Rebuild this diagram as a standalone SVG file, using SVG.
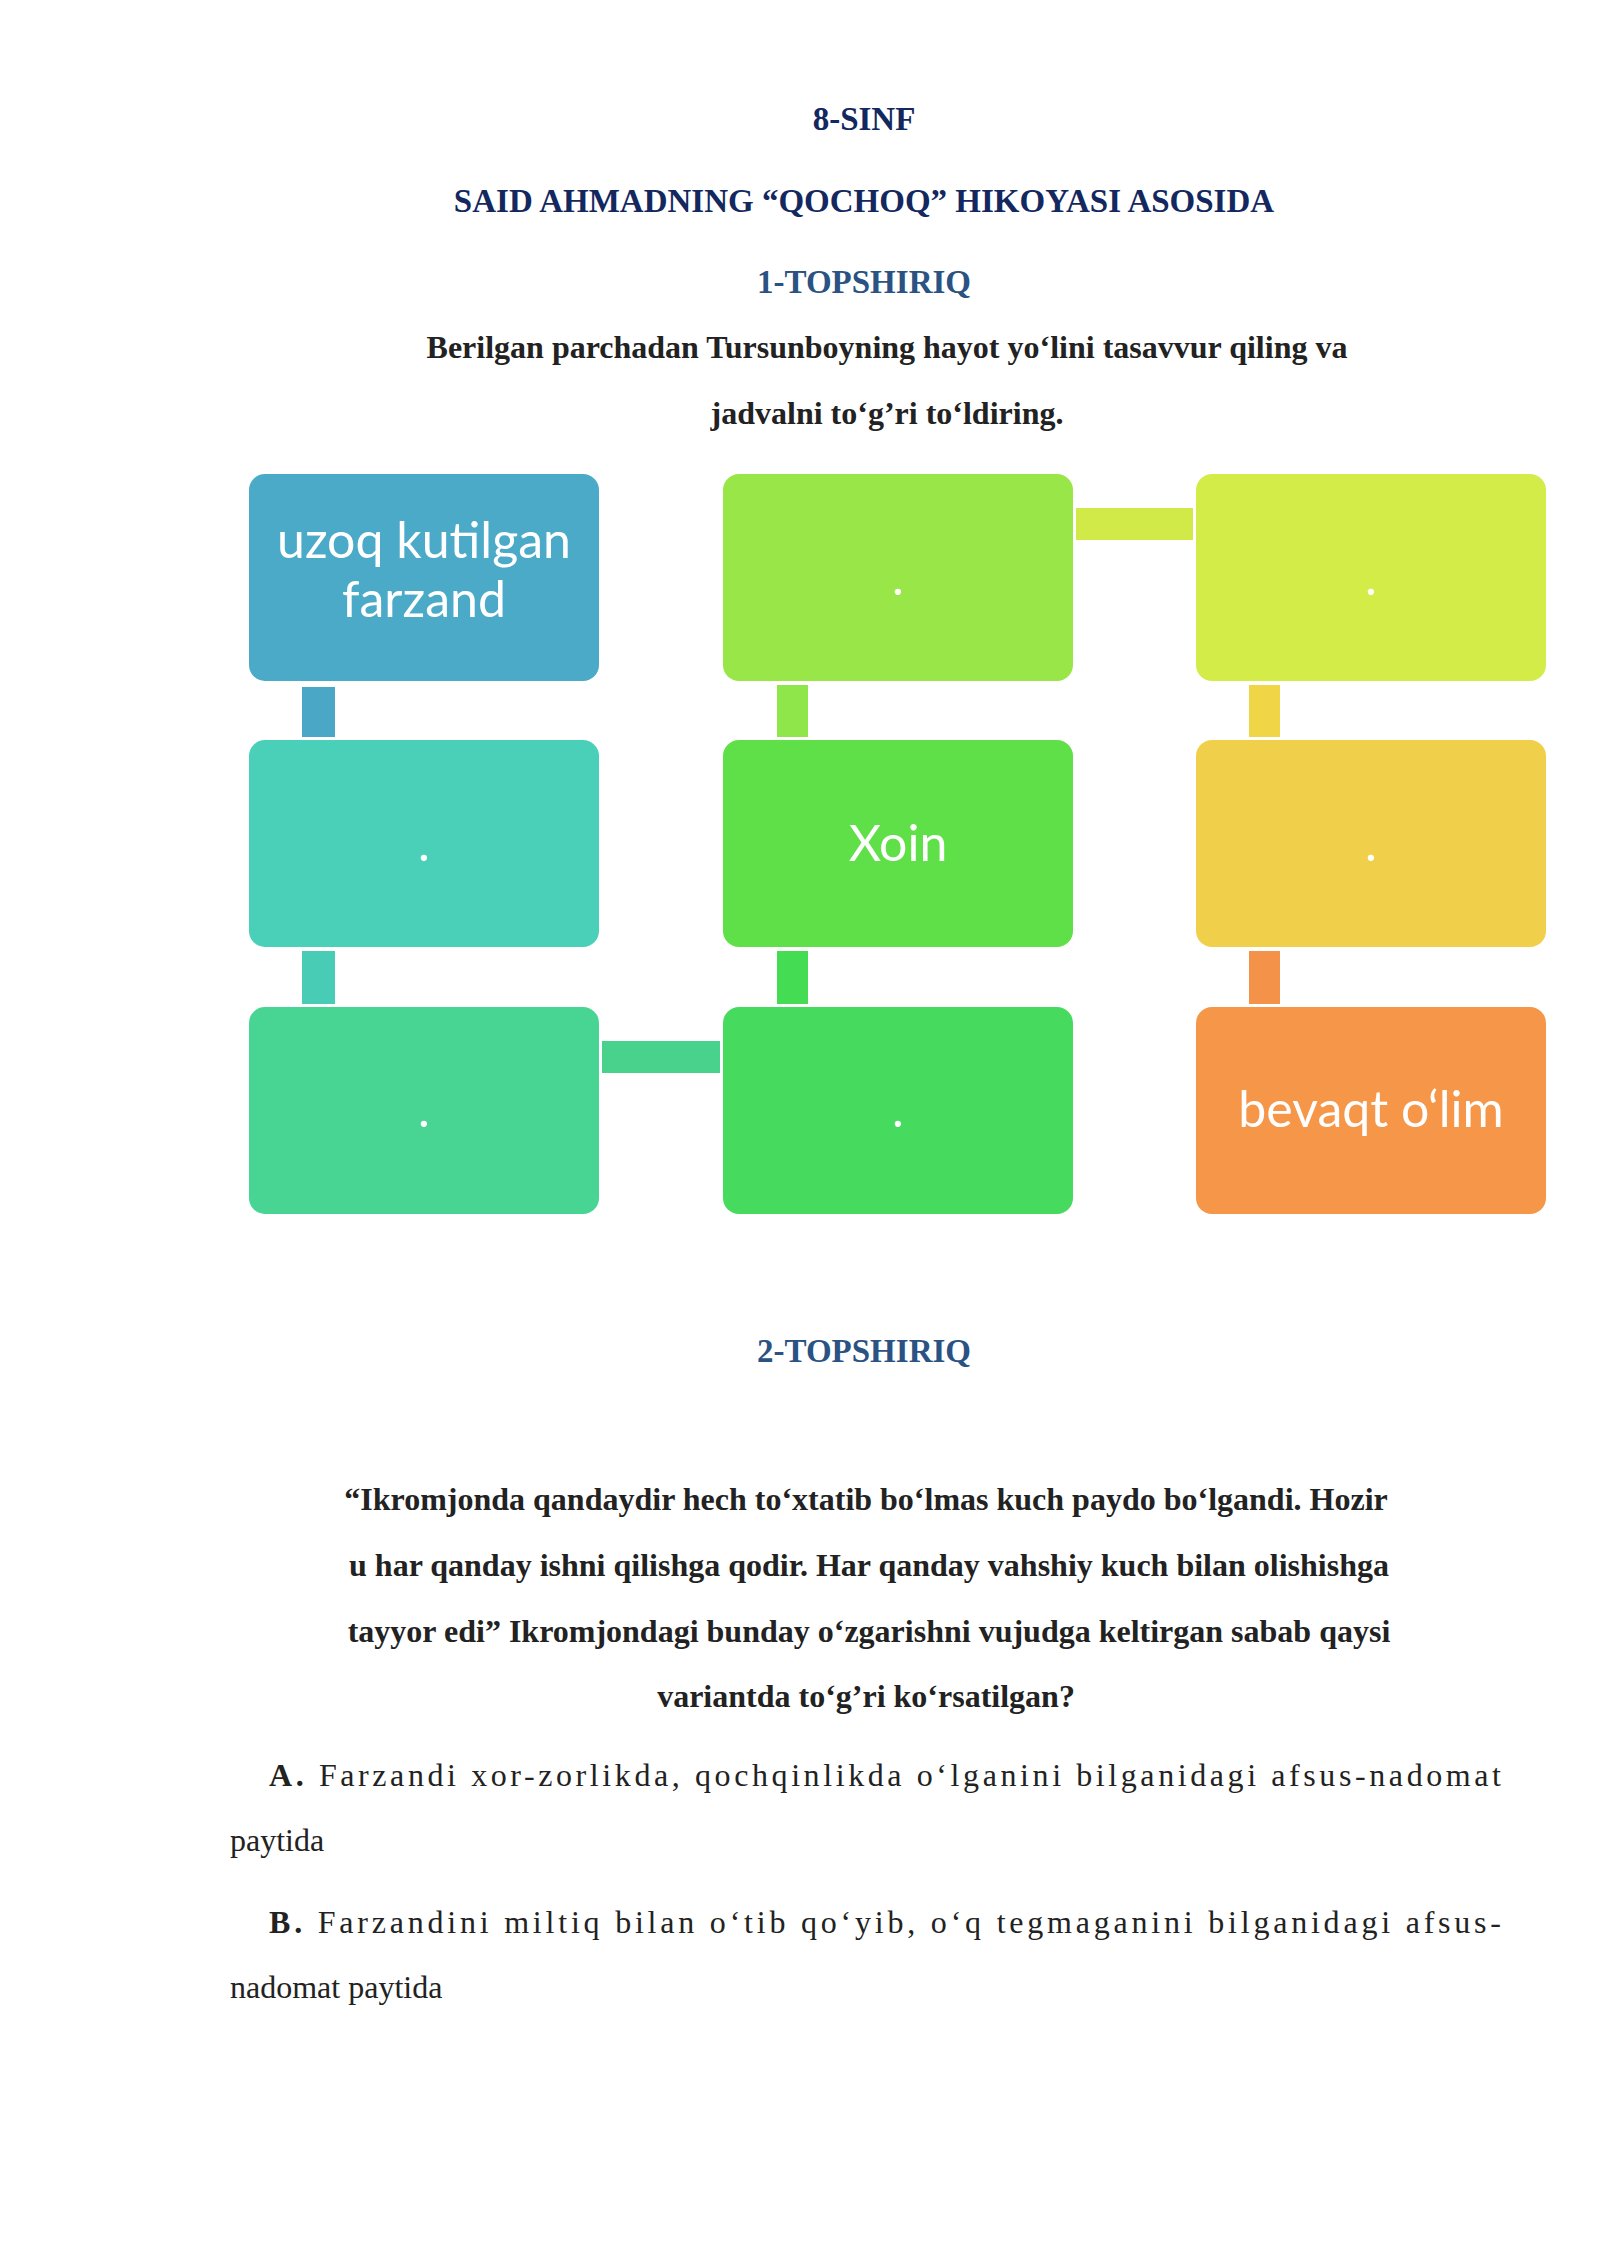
<svg xmlns="http://www.w3.org/2000/svg" width="1600" height="2262" viewBox="0 0 1600 2262">
<style>
.t{font-family:"Liberation Serif",serif;font-weight:bold;text-anchor:middle}
.h{fill:#13285e;font-size:33px}
.s{fill:#2a5283;font-size:33px}
.b{fill:#222;font-size:32px}
.n{font-family:"Liberation Serif",serif;fill:#222;font-size:32px}
.bx{font-family:Lato,"Open Sans",sans-serif;fill:#fff;font-size:50px;text-anchor:middle}
</style>
<rect width="1600" height="2262" fill="#fff"/>
<text class="t h" x="864" y="130">8-SINF</text>
<text class="t h" x="864" y="212">SAID AHMADNING  “QOCHOQ” HIKOYASI ASOSIDA</text>
<text class="t s" x="864" y="293">1-TOPSHIRIQ</text>
<text class="t b" x="887" y="358">Berilgan parchadan Tursunboyning hayot yo‘lini tasavvur qiling va</text>
<text class="t b" x="887" y="424">jadvalni to‘g’ri to‘ldiring.</text>
<g id="connectors">
<rect x="302" y="687" width="33" height="50" fill="#4aa8c6"/>
<rect x="302" y="951" width="33" height="53" fill="#48ccb6"/>
<rect x="777" y="685" width="31" height="52" fill="#8ee64a"/>
<rect x="777" y="951" width="31" height="53" fill="#44dc52"/>
<rect x="1249" y="685" width="31" height="52" fill="#f0d646"/>
<rect x="1249" y="951" width="31" height="53" fill="#f4924a"/>
<rect x="1076" y="508" width="117" height="32" fill="#d2ea48"/>
<rect x="602" y="1041" width="118" height="32" fill="#48d28c"/>
</g>
<g id="n1"><rect x="249" y="474" width="350" height="207" rx="16" fill="#4aaac7"/><text class="bx" x="424" y="558">uzoq kutilgan</text><text class="bx" x="424" y="617">farzand</text></g>
<g id="n2"><rect x="723" y="474" width="350" height="207" rx="16" fill="#98e647"/><text class="bx" x="898" y="595">.</text></g>
<g id="n3"><rect x="1196" y="474" width="350" height="207" rx="16" fill="#d4ec48"/><text class="bx" x="1371" y="595">.</text></g>
<g id="n4"><rect x="249" y="740" width="350" height="207" rx="16" fill="#4ad0b8"/><text class="bx" x="424" y="861">.</text></g>
<g id="n5"><rect x="723" y="740" width="350" height="207" rx="16" fill="#5fe048"/><text class="bx" x="898" y="861">Xoin</text></g>
<g id="n6"><rect x="1196" y="740" width="350" height="207" rx="16" fill="#f0d04a"/><text class="bx" x="1371" y="861">.</text></g>
<g id="n7"><rect x="249" y="1007" width="350" height="207" rx="16" fill="#48d492"/><text class="bx" x="424" y="1127">.</text></g>
<g id="n8"><rect x="723" y="1007" width="350" height="207" rx="16" fill="#46da5e"/><text class="bx" x="898" y="1127">.</text></g>
<g id="n9"><rect x="1196" y="1007" width="350" height="207" rx="16" fill="#f69648"/><text class="bx" x="1371" y="1127">bevaqt o‘lim</text></g>
<text class="t s" x="864" y="1362">2-TOPSHIRIQ</text>
<text class="t b" x="866" y="1510">“Ikromjonda qandaydir hech to‘xtatib bo‘lmas kuch paydo bo‘lgandi. Hozir</text>
<text class="t b" x="869" y="1576">u har qanday ishni qilishga qodir. Har qanday vahshiy kuch bilan olishishga</text>
<text class="t b" x="869" y="1642">tayyor edi” Ikromjondagi bunday o‘zgarishni vujudga keltirgan sabab qaysi</text>
<text class="t b" x="866" y="1707">variantda to‘g’ri ko‘rsatilgan?</text>
<text class="n" x="269" y="1786" textLength="1232" lengthAdjust="spacing"><tspan font-weight="bold">A.</tspan> Farzandi xor-zorlikda, qochqinlikda o‘lganini bilganidagi afsus-nadomat</text>
<text class="n" x="230" y="1851">paytida</text>
<text class="n" x="269" y="1933" textLength="1232" lengthAdjust="spacing"><tspan font-weight="bold">B.</tspan> Farzandini miltiq bilan o‘tib qo‘yib, o‘q tegmaganini bilganidagi afsus-</text>
<text class="n" x="230" y="1998">nadomat paytida</text>
</svg>
